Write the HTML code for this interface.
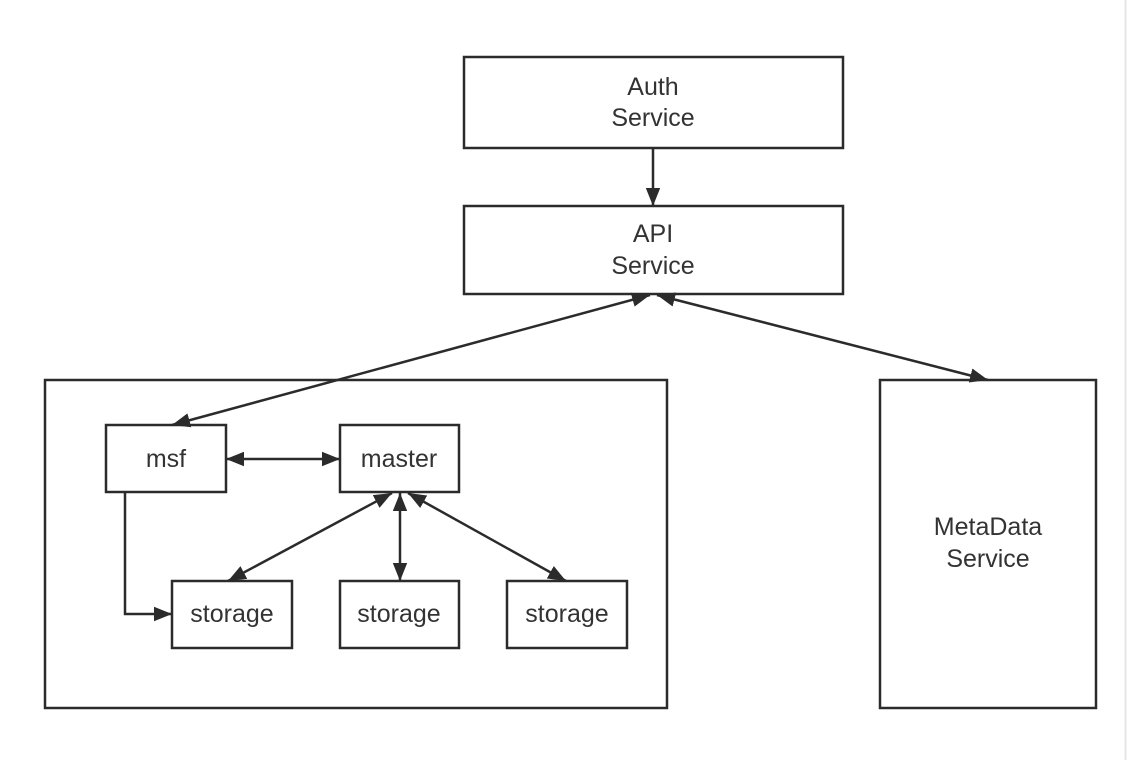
<!DOCTYPE html>
<html><head><style>
body{margin:0;background:#fff;width:1127px;height:760px;overflow:hidden}
svg text{font-family:"Liberation Sans","DejaVu Sans",sans-serif;font-size:25px;fill:#333;text-anchor:middle}
</style></head><body>
<svg width="1127" height="760" viewBox="0 0 1127 760">
<defs>
<marker id="b" viewBox="0 0 10 10" markerWidth="18" markerHeight="18" refX="10" refY="5" orient="auto-start-reverse" markerUnits="userSpaceOnUse"><path d="M0,1 L10,5 L0,9 z" fill="#2b2b2b"/></marker></defs>
<line x1="1125.5" y1="0" x2="1125.5" y2="760" stroke="#e6e6e6" stroke-width="2"/>
<g fill="none" stroke="#2b2b2b" stroke-width="2.5">
<rect x="464" y="57" width="379" height="91"/>
<rect x="464" y="206" width="379" height="88"/>
<rect x="45" y="380" width="622" height="328"/>
<rect x="880" y="380" width="216" height="328"/>
<rect x="106" y="425" width="120" height="67"/>
<rect x="340" y="425" width="119" height="67"/>
<rect x="172" y="581" width="120" height="67"/>
<rect x="340" y="581" width="119" height="67"/>
<rect x="507" y="581" width="120" height="67"/>
<line x1="653" y1="148" x2="653" y2="206" marker-end="url(#b)"/>
<line x1="650" y1="295" x2="172" y2="425" marker-start="url(#b)" marker-end="url(#b)"/>
<line x1="657" y1="295" x2="988" y2="380" marker-start="url(#b)" marker-end="url(#b)"/>
<line x1="226" y1="459" x2="340" y2="459" marker-start="url(#b)" marker-end="url(#b)"/>
<line x1="392" y1="493" x2="228" y2="581" marker-start="url(#b)" marker-end="url(#b)"/>
<line x1="400" y1="493" x2="400" y2="581" marker-start="url(#b)" marker-end="url(#b)"/>
<line x1="408" y1="493" x2="566" y2="581" marker-start="url(#b)" marker-end="url(#b)"/>
<polyline points="125,492 125,614 172,614" marker-end="url(#b)"/>
</g>
<text x="653" y="95">Auth</text><text x="653" y="126">Service</text>
<text x="653" y="242">API</text><text x="653" y="274">Service</text>
<text x="988" y="535">MetaData</text><text x="988" y="567">Service</text>
<text x="166" y="467">msf</text>
<text x="399" y="467">master</text>
<text x="232" y="622">storage</text>
<text x="399" y="622">storage</text>
<text x="567" y="622">storage</text>
</svg>
</body></html>
